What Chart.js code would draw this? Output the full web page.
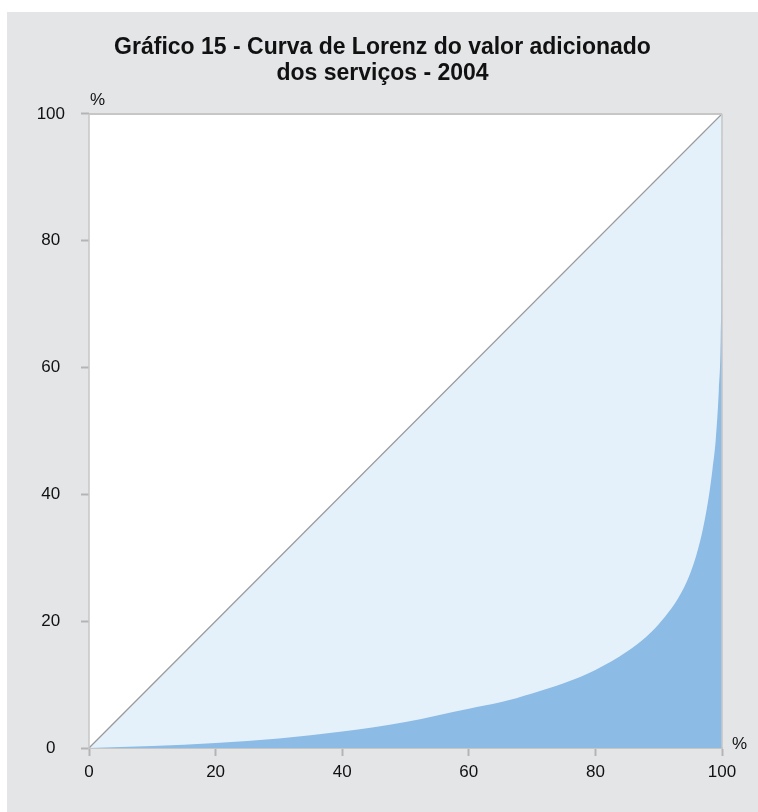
<!DOCTYPE html>
<html>
<head>
<meta charset="utf-8">
<script src="https://cdn.jsdelivr.net/npm/chart.js@4"></script>
<style>
    html, body { margin: 0; padding: 0; background: #ffffff; }
    #wrap { width: 758px; height: 812px; }
</style>
</head>
<body>
<div id="wrap"><canvas id="lorenzChart" width="758" height="812"></canvas></div>
<script>
// Gráfico 15 - Curva de Lorenz do valor adicionado dos serviços - 2004

// cumulative share of firms (%)
const popShare = [0, 10, 20, 30, 40, 50, 60, 65, 70, 75, 80, 85, 88, 90, 92, 93, 94, 95, 96, 97, 98, 98.5, 99, 99.5, 99.8, 99.95, 100];
// cumulative share of value added (%)
const valueShare = [0, 0.3, 0.8, 1.5, 2.6, 4.1, 6.2, 7.2, 8.6, 10.2, 12.3, 15.2, 17.5, 19.5, 22, 23.5, 25.3, 27.6, 30.6, 34.6, 40.2, 44, 48.5, 56.5, 65, 80, 100];
// line of perfect equality
const equalityX = [0, 100];
const equalityY = [0, 100];
const tickValues = [0, 20, 40, 60, 80, 100];

const colors = {
    background: '#e4e5e7',
    lightFill: '#e4f1fb',
    darkFill: '#8cbbe5',
    diagonal: '#9a9a9a',
    frame: '#c6c6c6',
    text: '#111111'
};

function toPoints(xs, ys) {
    return xs.map(function(x, i) { return { x: x, y: ys[i] }; });
}

// gray panel behind the chart, frame lines and the "%" unit labels
const framePlugin = {
    id: 'frame',
    beforeDraw: function(chart) {
        const ctx = chart.ctx;
        ctx.save();
        ctx.fillStyle = colors.background;
        ctx.fillRect(7, 12, chart.width - 7, chart.height - 12);
        ctx.fillStyle = '#ffffff';
        const a = chart.chartArea;
        ctx.fillRect(a.left, a.top, a.right - a.left, a.bottom - a.top);
        ctx.restore();
    },
    afterDraw: function(chart) {
        const ctx = chart.ctx;
        const a = chart.chartArea;
        ctx.save();
        ctx.strokeStyle = colors.frame;
        ctx.lineWidth = 2;
        ctx.beginPath();
        ctx.moveTo(a.left, a.top);
        ctx.lineTo(a.right, a.top);
        ctx.stroke();
        ctx.lineWidth = 1.5;
        ctx.beginPath();
        ctx.moveTo(a.left, a.top);
        ctx.lineTo(a.left, a.bottom);
        ctx.moveTo(a.right, a.top);
        ctx.lineTo(a.right, a.bottom);
        ctx.stroke();

        ctx.fillStyle = colors.text;
        ctx.font = '17px "Liberation Sans", Arial, sans-serif';
        ctx.textAlign = 'left';
        ctx.textBaseline = 'middle';
        ctx.fillText('%', a.left + 1, a.top - 14);
        ctx.fillText('%', a.right + 10, a.bottom - 4);
        ctx.restore();
    }
};

function initLorenzChart() {
    const ctx = document.getElementById('lorenzChart');

    const data = {
        datasets: [{
            label: 'Curva de Lorenz',
            data: toPoints(popShare, valueShare),
            borderWidth: 0,
            borderColor: colors.darkFill,
            backgroundColor: colors.darkFill,
            fill: 'origin',
            pointRadius: 0,
            cubicInterpolationMode: 'monotone'
        }, {
            label: 'Igualdade',
            data: toPoints(equalityX, equalityY),
            borderWidth: 1.3,
            borderColor: colors.diagonal,
            backgroundColor: colors.lightFill,
            fill: 'origin',
            pointRadius: 0,
            tension: 0
        }]
    };

    const tickFont = { family: '"Liberation Sans", Arial, sans-serif', size: 17 };

    const options = {
        responsive: false,
        animation: false,
        layout: {
            padding: { left: 7, top: 12, right: 0, bottom: 14 }
        },
        plugins: {
            legend: { display: false },
            tooltip: { enabled: false },
            title: {
                display: true,
                text: ['Gráfico 15 - Curva de Lorenz do valor adicionado', 'dos serviços - 2004'],
                color: colors.text,
                font: { family: '"Liberation Sans", Arial, sans-serif', size: 23, weight: 'bold', lineHeight: 1.15 },
                padding: { top: 22, bottom: 27 }
            }
        },
        scales: {
            x: {
                type: 'linear',
                min: 0,
                max: 100,
                afterBuildTicks: function(scale) {
                    scale.ticks = tickValues.map(function(v) { return { value: v }; });
                },
                afterFit: function(scale) {
                    scale.height = 50;
                    scale.paddingLeft = 0;
                    scale.paddingRight = 0;
                },
                grid: {
                    drawOnChartArea: false,
                    drawTicks: true,
                    tickLength: 8,
                    tickWidth: 2,
                    tickColor: '#b4b4b4'
                },
                border: { display: true, color: colors.frame, width: 2 },
                ticks: { color: colors.text, font: tickFont, padding: 6, maxRotation: 0 }
            },
            y: {
                type: 'linear',
                min: 0,
                max: 100,
                afterBuildTicks: function(scale) {
                    scale.ticks = tickValues.map(function(v) { return { value: v }; });
                },
                afterFit: function(scale) {
                    scale.width = 82;
                    scale.paddingTop = 0;
                    scale.paddingBottom = 0;
                },
                grid: {
                    drawOnChartArea: false,
                    drawTicks: true,
                    tickLength: 8,
                    tickWidth: 2,
                    tickColor: '#b4b4b4'
                },
                border: { display: false },
                ticks: { color: colors.text, font: tickFont, padding: 16, crossAlign: 'center' }
            },
            yRight: {
                type: 'linear',
                position: 'right',
                afterFit: function(scale) {
                    scale.width = 36;
                },
                grid: { display: false },
                border: { display: false },
                ticks: { display: false }
            }
        }
    };

    window.lorenzChart = new Chart(ctx, {
        type: 'line',
        data: data,
        options: options,
        plugins: [framePlugin]
    });
}

document.addEventListener('DOMContentLoaded', initLorenzChart);
</script>
</body>
</html>
